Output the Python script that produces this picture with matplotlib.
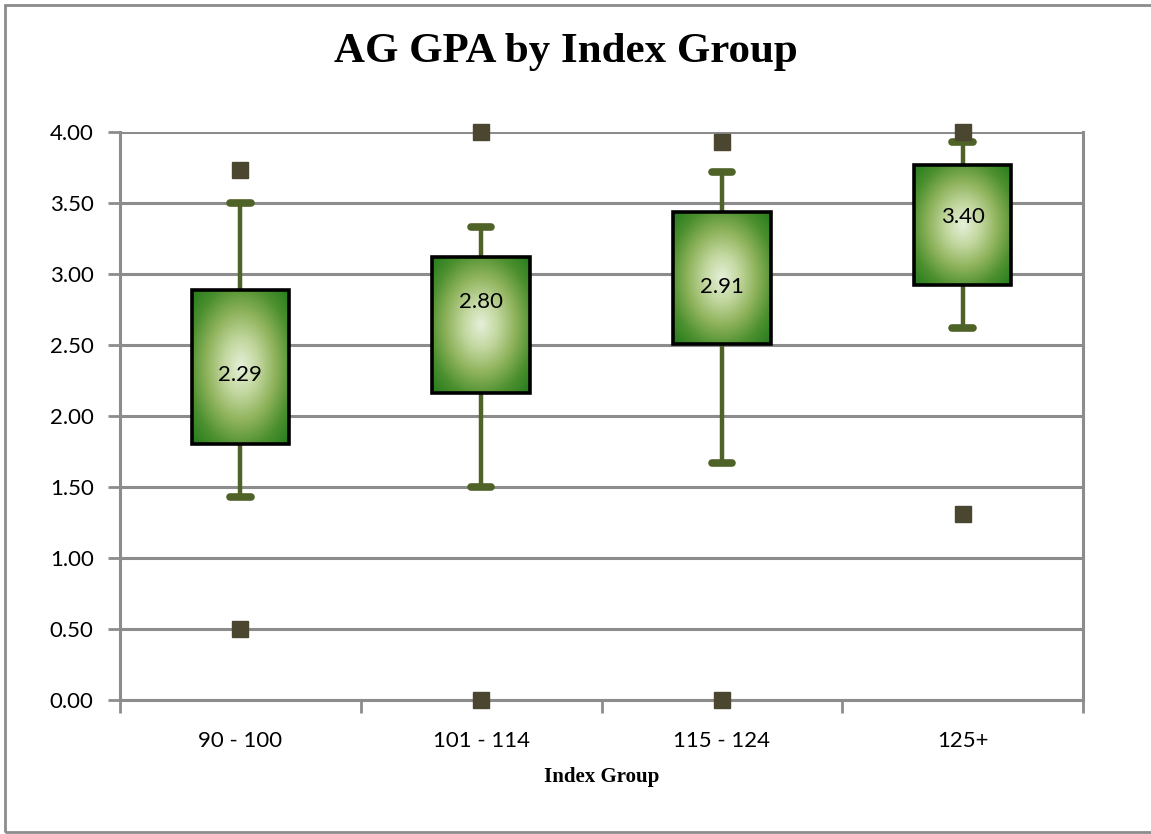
import numpy as np
import matplotlib
matplotlib.use("Agg")
import matplotlib.pyplot as plt
from matplotlib.colors import LinearSegmentedColormap
from matplotlib.patches import Rectangle

# waarden
groups = ["90 - 100", "101 - 114", "115 - 124", "125+"]
q1 = [1.80, 2.16, 2.51, 2.92]
q3 = [2.89, 3.12, 3.44, 3.77]
whislo = [1.43, 1.50, 1.67, 2.62]
whishi = [3.50, 3.33, 3.72, 3.93]
means = [2.29, 2.80, 2.91, 3.40]
outliers = [[3.73, 0.50], [4.00, 0.00], [3.93, 0.00], [4.00, 1.31]]

grid_grey = "#8c8c8c"
whisker_green = "#4f6228"
marker_col = "#4b4630"

fig = plt.figure(figsize=(11.51, 8.34), dpi=100)
W, H = 1151, 834
ax = fig.add_axes([120 / W, 1 - 700 / H, (1083 - 120) / W, (700 - 132) / H])

positions = np.arange(len(groups)) + 0.5
stats = []
for i in range(len(groups)):
    stats.append(dict(med=means[i], q1=q1[i], q3=q3[i], whislo=whislo[i],
                      whishi=whishi[i], fliers=outliers[i], label=groups[i]))

bp = ax.bxp(stats, positions=positions, widths=0.405, patch_artist=True,
            showfliers=True, capwidths=0.085,
            boxprops=dict(facecolor="none", edgecolor="black", linewidth=2.6),
            whiskerprops=dict(color=whisker_green, linewidth=3.2),
            capprops=dict(color=whisker_green, linewidth=5.5, solid_capstyle="round"),
            medianprops=dict(linewidth=0),
            flierprops=dict(marker="s", markersize=11, markerfacecolor=marker_col,
                            markeredgecolor=marker_col, linestyle="none"))

for b in bp["boxes"]:
    b.set_zorder(4)
for w in bp["whiskers"] + bp["caps"]:
    w.set_zorder(2)
for f in bp["fliers"]:
    f.set_zorder(5)
    f.set_clip_on(False)

# radiaal verloop in de boxen
cmap = LinearSegmentedColormap.from_list(
    "grn", ["#e6f0d9", "#c2d79f", "#8fb35c", "#4d902f", "#237a1c"])
u, v = np.meshgrid(np.linspace(-1, 1, 200), np.linspace(-1, 1, 200))
r = np.sqrt(u ** 2 + v ** 2) / np.sqrt(2)
for i, b in enumerate(bp["boxes"]):
    x0 = positions[i] - 0.2025
    im = ax.imshow(r, cmap=cmap, vmin=0, vmax=1, origin="lower",
                   extent=[x0, x0 + 0.405, q1[i], q3[i]], aspect="auto",
                   zorder=3, interpolation="bilinear")
    im.set_clip_path(b)
    ax.text(positions[i], means[i], f"{means[i]:.2f}", ha="center", va="center",
            fontsize=16, family="Lato", zorder=6)

ax.set_xlim(0, 4)
ax.set_ylim(0, 4)
ax.set_yticks(np.arange(0, 4.01, 0.5))
ax.set_yticklabels([f"{t:.2f}" for t in np.arange(0, 4.01, 0.5)])
ax.set_xticks(np.arange(0, 5))
ax.set_xticklabels([])
ax.set_xticks(positions, minor=True)
ax.set_xticklabels(groups, minor=True)
ax.tick_params(axis="x", which="minor", length=0, pad=22)
ax.tick_params(axis="x", which="major", length=9, width=2, color=grid_grey, direction="out")
ax.tick_params(axis="y", length=9, width=2, color=grid_grey, direction="out", pad=10)
for lab in ax.get_xticklabels(minor=True) + ax.get_yticklabels():
    lab.set_family("Lato")
    lab.set_fontsize(16)

ax.yaxis.grid(True, color=grid_grey, linewidth=2.2)
ax.set_axisbelow(True)
ax.spines["top"].set_visible(False)
for s in ["left", "bottom", "right"]:
    ax.spines[s].set_color(grid_grey)
    ax.spines[s].set_linewidth(2.2)

ax.set_xlabel("Index Group", family="Liberation Serif", fontweight="bold",
              fontsize=15, labelpad=12)
fig.text(566 / W, 1 - 52 / H, "AG GPA by Index Group", ha="center", va="center",
         family="Liberation Serif", fontweight="bold", fontsize=31)

fig.patches.append(Rectangle((5 / W, 1 - 832 / H), 1.1, (832 - 5) / H,
                             transform=fig.transFigure, fill=False,
                             edgecolor=grid_grey, linewidth=2))

fig.savefig("out.png", dpi=100)
